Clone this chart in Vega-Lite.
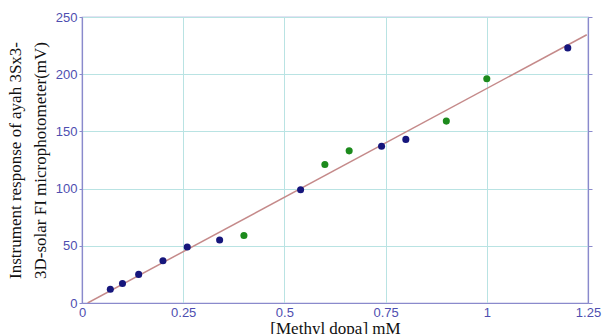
{
  "$schema": "https://vega.github.io/schema/vega-lite/v6.json",
  "width": 506,
  "height": 286,
  "autosize": {"type": "none"},
  "padding": {"left": 82, "top": 17, "right": 15, "bottom": 31},
  "background": "white",
  "config": {
    "view": {"stroke": "#8a8acc", "strokeWidth": 1.2},
    "axis": {
      "labelFont": "Liberation Sans",
      "labelFontSize": 13,
      "labelColor": "#4e4eb0",
      "domainColor": "#8a8acc",
      "tickColor": "#8a8acc",
      "gridColor": "#b9e3e3",
      "gridOpacity": 1,
      "titleFont": "Liberation Serif",
      "titleFontSize": 17,
      "titleFontWeight": "normal",
      "titleColor": "#111111"
    }
  },
  "datasets": {
    "points": [
      {"conc": 0.07, "resp": 12, "series": "calibration"},
      {"conc": 0.10, "resp": 17, "series": "calibration"},
      {"conc": 0.14, "resp": 25, "series": "calibration"},
      {"conc": 0.20, "resp": 37, "series": "calibration"},
      {"conc": 0.26, "resp": 49, "series": "calibration"},
      {"conc": 0.34, "resp": 55, "series": "calibration"},
      {"conc": 0.40, "resp": 59, "series": "sample"},
      {"conc": 0.54, "resp": 99, "series": "calibration"},
      {"conc": 0.60, "resp": 121, "series": "sample"},
      {"conc": 0.66, "resp": 133, "series": "sample"},
      {"conc": 0.74, "resp": 137, "series": "calibration"},
      {"conc": 0.80, "resp": 143, "series": "calibration"},
      {"conc": 0.90, "resp": 159, "series": "sample"},
      {"conc": 1.00, "resp": 196, "series": "sample"},
      {"conc": 1.20, "resp": 223, "series": "calibration"}
    ],
    "fit": [
      {"conc": 0.014, "resp": 0},
      {"conc": 1.247, "resp": 234.5}
    ]
  },
  "layer": [
    {
      "data": {"name": "fit"},
      "mark": {"type": "line", "color": "#c58a8a", "strokeWidth": 1.5, "clip": true},
      "encoding": {
        "x": {
          "field": "conc", "type": "quantitative",
          "scale": {"domain": [0, 1.25], "nice": false, "zero": false},
          "axis": {
            "orient": "bottom",
            "values": [0, 0.25, 0.5, 0.75, 1, 1.25],
            "format": ".2~f",
            "tickSize": 0,
            "labelPadding": 3,
            "labelFlush": false,
            "title": "[Methyl dopa] mM",
            "titlePadding": 1,
            "domainWidth": 1.2
          }
        },
        "y": {
          "field": "resp", "type": "quantitative",
          "scale": {"domain": [0, 250], "nice": false},
          "axis": {
            "orient": "left",
            "values": [0, 50, 100, 150, 200, 250],
            "tickSize": 3,
            "labelPadding": 2,
            "title": ["Instrument response of ayah 3Sx3-", "3D-solar FI microphotometer(mV)"],
            "titlePadding": 6,
            "titleLineHeight": 25,
            "domainWidth": 1.2
          }
        }
      }
    },
    {
      "data": {"name": "points"},
      "mark": {"type": "point", "filled": true, "size": 50, "opacity": 1},
      "encoding": {
        "x": {"field": "conc", "type": "quantitative"},
        "y": {
          "field": "resp", "type": "quantitative",
          "axis": {
            "orient": "right",
            "values": [0, 50, 100, 150, 200, 250],
            "labels": false,
            "grid": false,
            "tickSize": 4,
            "title": null,
            "domainWidth": 1.2
          }
        },
        "color": {
          "field": "series", "type": "nominal",
          "scale": {"domain": ["calibration", "sample"], "range": ["#16167c", "#1c8a1c"]},
          "legend": null
        }
      }
    }
  ],
  "resolve": {"axis": {"y": "independent"}}
}
